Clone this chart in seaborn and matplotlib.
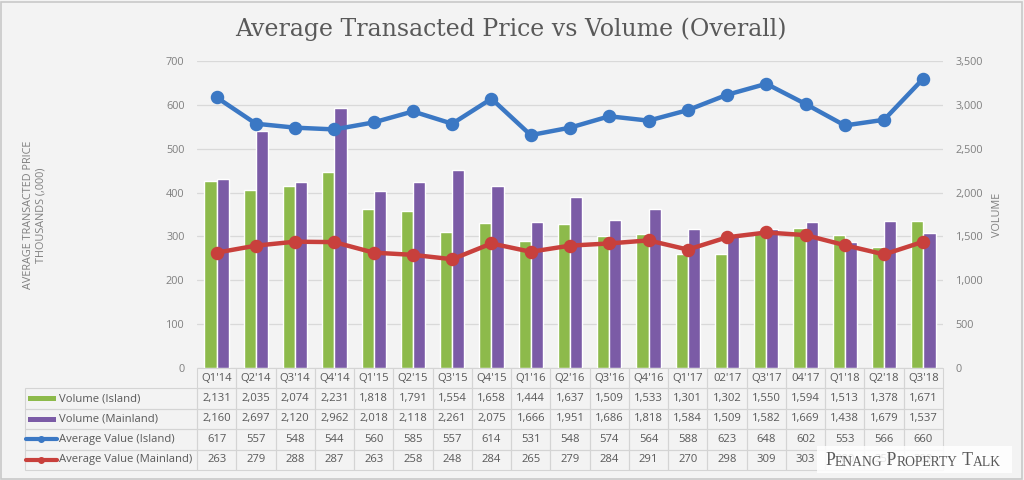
import numpy as np
import pandas as pd
import seaborn as sns
import matplotlib.pyplot as plt
from matplotlib.lines import Line2D
from matplotlib.patches import Rectangle

#data
quarters = ["Q1'14", "Q2'14", "Q3'14", "Q4'14", "Q1'15", "Q2'15", "Q3'15", "Q4'15",
            "Q1'16", "Q2'16", "Q3'16", "Q4'16", "Q1'17", "02'17", "Q3'17", "04'17",
            "Q1'18", "Q2'18", "Q3'18"]
vol_island = [2131, 2035, 2074, 2231, 1818, 1791, 1554, 1658, 1444, 1637,
              1509, 1533, 1301, 1302, 1550, 1594, 1513, 1378, 1671]
vol_mainland = [2160, 2697, 2120, 2962, 2018, 2118, 2261, 2075, 1666, 1951,
                1686, 1818, 1584, 1509, 1582, 1669, 1438, 1679, 1537]
price_island = [617, 557, 548, 544, 560, 585, 557, 614, 531, 548,
                574, 564, 588, 623, 648, 602, 553, 566, 660]
price_mainland = [263, 279, 288, 287, 263, 258, 248, 284, 265, 279,
                  284, 291, 270, 298, 309, 303, 280, 259, 288]
series_names = ['Volume (Island)', 'Volume (Mainland)',
                'Average Value (Island)', 'Average Value (Mainland)']

green, purple, blue, red = '#8dba4b', '#7b5ba6', '#3b78c4', '#c8403c'
grey_txt = '#595959'
bg = '#f3f3f3'

sns.set_style('white')
plt.rcParams['font.family'] = ['Open Sans', 'DejaVu Sans']

W, H = 1024, 480
fig = plt.figure(figsize=(W / 100, H / 100), dpi=100, facecolor=bg)
x0, x1, y_top, y_bot = 197, 943, 61, 368
ax = fig.add_axes([x0 / W, 1 - y_bot / H, (x1 - x0) / W, (y_bot - y_top) / H])
ax.set_facecolor(bg)

#volume bars (right axis)
vol = pd.DataFrame({'quarter': quarters * 2,
                    'volume': vol_island + vol_mainland,
                    'series': [series_names[0]] * len(quarters) + [series_names[1]] * len(quarters)})
sns.barplot(data=vol, x='quarter', y='volume', hue='series', palette=[green, purple],
            saturation=1, width=0.62, errorbar=None, legend=False, ax=ax)
ax.set_ylim(0, 3500)
ax.set_yticks(range(0, 3501, 500))
ax.set_yticklabels([f'{v:,}' for v in range(0, 3501, 500)])
ax.grid(axis='y', color='#d9d9d9', linewidth=0.9)
ax.set_axisbelow(True)

#average price lines (left axis)
ax2 = ax.twinx()
ax2.patch.set_visible(False)
sns.pointplot(x=quarters, y=price_island, color=blue, errorbar=None, markers='o',
              linewidth=3.2, markersize=7.3, ax=ax2)
sns.pointplot(x=quarters, y=price_mainland, color=red, errorbar=None, markers='o',
              linewidth=3.2, markersize=7.3, ax=ax2)
ax2.set_ylim(0, 700)
ax2.set_yticks(range(0, 701, 100))
ax.yaxis.tick_right()
ax2.yaxis.tick_left()

for a in (ax, ax2):
    a.set_xlim(-0.5, len(quarters) - 0.5)
    a.set_xlabel('')
    a.set_ylabel('')
    a.tick_params(axis='x', length=0, labelbottom=False)
    a.tick_params(axis='y', length=0, labelsize=7.8, labelcolor='#7f7f7f', pad=9)
    for s in a.spines.values():
        s.set_visible(False)

fig.text(35 / W, 1 - 215 / H, 'AVERAGE TRANSACTED PRICE\nTHOUSANDS (,000)', rotation=90,
         ha='center', va='center', fontsize=7.8, color='#7f7f7f', linespacing=1.25)
fig.text(997 / W, 1 - 215 / H, 'VOLUME', rotation=90, ha='center', va='center',
         fontsize=7.8, color='#7f7f7f')
fig.text(511 / W, 1 - 29 / H, 'Average Transacted Price vs Volume (Overall)',
         ha='center', va='center', fontsize=17, family='DejaVu Serif', color=grey_txt)

#data table under the plot
rows = [[''] + quarters,
        [series_names[0]] + [f'{v:,}' for v in vol_island],
        [series_names[1]] + [f'{v:,}' for v in vol_mainland],
        [series_names[2]] + [str(v) for v in price_island],
        [series_names[3]] + [str(v) for v in price_mainland]]
lab_w = (x0 - 25) / (x1 - x0)
tab_h = (470 - y_bot) / (y_bot - y_top)
tbl = ax.table(cellText=rows, cellLoc='center',
               colWidths=[lab_w] + [1 / len(quarters)] * len(quarters),
               bbox=[-lab_w, -tab_h, 1 + lab_w, tab_h])
tbl.auto_set_font_size(False)
tbl.set_fontsize(8.1)
for (r, c), cell in tbl.get_celld().items():
    cell.set_edgecolor('#d4d4d4')
    cell.set_linewidth(0.8)
    cell.set_facecolor('none')
    cell.get_text().set_color(grey_txt)
    if c == 0:
        cell.get_text().set_ha('left')
        cell.PAD = 0.2
        if r == 0:
            cell.visible_edges = ''

#legend keys inside the table
row_h = (470 - y_bot) / 5
for i, col in enumerate([green, purple, blue, red]):
    yc = 1 - (y_bot + row_h * (i + 1.5)) / H
    if i < 2:
        fig.add_artist(Rectangle((28 / W, yc - 2.5 / H), 28 / W, 5 / H,
                                 transform=fig.transFigure, facecolor=col, edgecolor='none'))
    else:
        fig.add_artist(Line2D([26 / W, 41 / W, 57 / W], [yc, yc, yc], transform=fig.transFigure,
                              color=col, lw=3, marker='o', markersize=4, markevery=[1]))

#watermark
ax2.add_artist(Rectangle((817 / W, 1 - 473 / H), 195 / W, 27 / H, transform=fig.transFigure,
                         facecolor='white', edgecolor='none', alpha=0.85, zorder=5, clip_on=False))
parts = [('P', 12.8), ('ENANG', 9.8), (' P', 12.8), ('ROPERTY', 9.8), (' T', 12.8), ('ALK', 9.8)]
prev = None
for txt, size in parts:
    kw = dict(fontsize=size, family='Liberation Serif', color=grey_txt, ha='left', va='bottom',
              annotation_clip=False, zorder=6)
    if prev is None:
        prev = ax2.annotate(txt, xy=(825, H - 469), xycoords='figure pixels', **kw)
    else:
        prev = ax2.annotate(txt, xy=(1, 0), xycoords=prev, **kw)

fig.add_artist(Rectangle((0.001, 0.003), 0.997, 0.993, transform=fig.transFigure,
                         fill=False, edgecolor='#c8c8c8', lw=1.2))

fig.savefig('out.png', dpi=100, facecolor=bg)
